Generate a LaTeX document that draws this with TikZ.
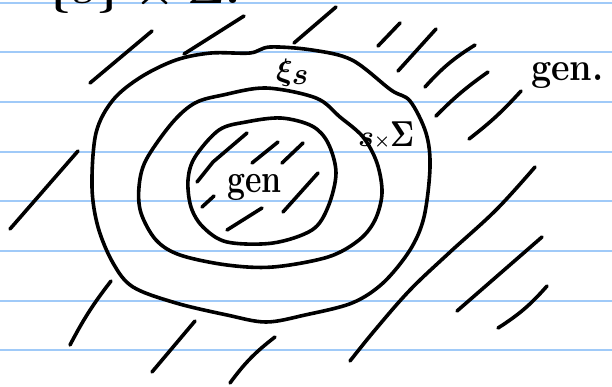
\documentclass[tikz,border=0pt]{standalone}
\usepackage{amsmath}
\usepackage{graphicx}
\usepackage{fontspec}
\begin{document}
\begin{tikzpicture}[x=1pt,y=-1pt,
  ink/.style={line width=3.6pt,line cap=round,line join=round,black},
  ruled/.style={line width=2pt,color=ruleblue},
  hand/.style={inner sep=0pt,text=black}]
\definecolor{ruleblue}{RGB}{160,202,248}
\useasboundingbox[fill=white] (0,0) rectangle (612,386);
% ruled paper lines
\foreach \yy in {2.7,52.3,102,151.7,201.3,251,300.7,350.3}
  \draw[ruled] (0,\yy) -- (612,\yy);
% outer curve
\draw[ink] plot[smooth cycle,tension=0.55] coordinates {
 (250,53) (270,47) (312,50) (352,60) (391,90) (410,101) (426,133) (430,167)
 (424,217) (410,250) (383,283) (352,303) (305,315) (266,322) (227,315)
 (176,303) (133,287) (113,263) (98,227) (92,187) (96,133) (113,100)
 (141,77) (176,60) (211,53)};
% middle curve
\draw[ink] plot[smooth cycle,tension=0.55] coordinates {
 (223,95) (266,88) (316,98) (340,117) (363,137) (377,163) (382,193)
 (375,220) (359,240) (328,257) (273,267) (227,265) (180,255) (156,240)
 (141,213) (139,187) (146,160) (172,123) (195,103)};
% inner curve
\draw[ink] plot[smooth cycle,tension=0.55] coordinates {
 (246,122) (281,118) (312,126) (328,143) (336,173) (328,207) (312,230)
 (273,243) (227,242) (203,227) (191,207) (188,180) (195,157) (219,130)};
% outside hatching
\draw[ink] (90,83) -- (152,31);
\draw[ink] (184,54) -- (244,16);
\draw[ink] (294,43) -- (336,7);
\draw[ink] (378,46) -- (400,23);
\draw[ink] (398,71) -- (436,29);
\draw[ink] (425,87) to[bend left=8] (475,45);
\draw[ink] (436,116) to[bend left=5] (488,72);
\draw[ink] (469,139) to[bend right=5] (521,91);
\draw[ink] (10,229) -- (78,151);
\draw[ink] (70,345) to[bend left=5] (111,281);
\draw[ink] (152,372) -- (195,321);
\draw[ink] (230,383) to[bend left=8] (275,337);
\draw[ink] plot[smooth,tension=0.6] coordinates {(350,361) (375,330) (410,290) (449,253) (496,210) (535,167)};
\draw[ink] (457,311) -- (542,237);
\draw[ink] (498,328) to[bend right=8] (547,286);
% inside hatching
\draw[ink] (197,182) -- (213,162) -- (247,133);
\draw[ink] (252,163) -- (278,142);
\draw[ink] (282,163) -- (303,143);
\draw[ink] (202,207) -- (214,196);
\draw[ink] (283,212) -- (318,173);
\draw[ink] (227,230) -- (262,208);
% labels
\node[hand,anchor=base west] (genin) at (227,192)
  {\scalebox{1}[1.25]{\fontsize{32}{36}\selectfont\bfseries gen}};
\node[hand,anchor=base west] (genout) at (531,80)
  {\scalebox{1}[1.1]{\fontsize{36}{40}\selectfont\bfseries gen.}};
\node[hand,anchor=base west] (xis) at (276,80)
  {\scalebox{3.1}{\boldmath$\xi_{\textstyle s}$}};
\node[hand,anchor=base west] (sxs) at (358,146)
  {\scalebox{3}{\boldmath$s$}\scalebox{1.8}{\boldmath$\times$}\scalebox{2.9}[3.6]{\boldmath$\Sigma$}};
\node[hand,anchor=base west] (top) at (45,3)
  {\scalebox{4.6}[4]{\boldmath$\{s\}\times\Sigma.$}};
\end{tikzpicture}
\end{document}
